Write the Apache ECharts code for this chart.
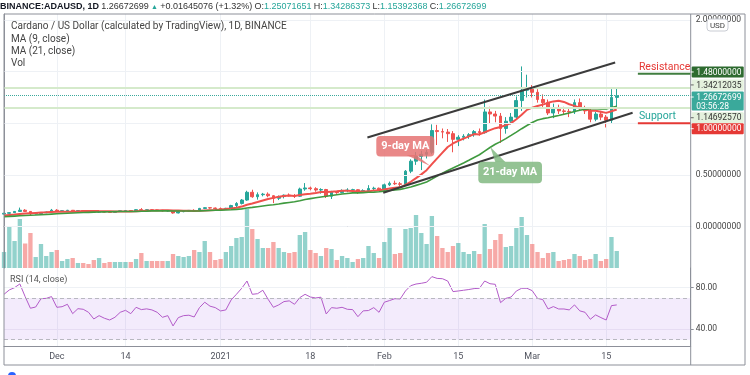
<!DOCTYPE html>
<html><head><meta charset="utf-8">
<script src="https://cdn.jsdelivr.net/npm/echarts@6/dist/echarts.min.js"></script>
<style>html,body{margin:0;padding:0;background:#fff;overflow:hidden}#c{width:750px;height:375px}</style>
</head><body><div id="c"></div>
<script>
// ---------- data ----------
const startDay = [2020, 10, 21];          // 21 Nov 2020 (first candle)
const dayCount = 131;                      // axis runs to 31 Mar 2021
const opens = [0.122,0.130,0.136,0.148,0.160,0.148,0.125,0.127,0.135,0.142,0.160,0.150,0.155,0.159,0.148,0.156,0.154,0.152,0.141,0.146,0.142,0.139,0.147,0.155,0.156,0.152,0.165,0.162,0.164,0.163,0.159,0.152,0.156,0.133,0.146,0.151,0.158,0.155,0.177,0.184,0.181,0.176,0.175,0.178,0.205,0.225,0.258,0.333,0.290,0.310,0.315,0.300,0.275,0.292,0.305,0.300,0.295,0.365,0.375,0.368,0.355,0.360,0.295,0.335,0.330,0.350,0.355,0.358,0.335,0.350,0.370,0.372,0.355,0.405,0.420,0.415,0.410,0.537,0.634,0.680,0.700,0.720,0.930,0.920,0.915,0.900,0.845,0.865,0.875,0.890,0.920,0.910,1.110,1.090,1.070,0.950,1.020,1.060,1.220,1.320,1.330,1.300,1.230,1.200,1.100,1.150,1.120,1.115,1.110,1.200,1.140,1.120,1.040,1.090,1.060,1.030,1.2507];
const highs = [0.134,0.140,0.152,0.185,0.170,0.152,0.133,0.139,0.146,0.172,0.170,0.158,0.163,0.162,0.158,0.160,0.158,0.154,0.149,0.148,0.144,0.149,0.158,0.159,0.158,0.169,0.180,0.167,0.169,0.166,0.162,0.158,0.158,0.149,0.154,0.161,0.169,0.182,0.188,0.190,0.186,0.186,0.183,0.212,0.238,0.268,0.348,0.358,0.332,0.327,0.332,0.306,0.302,0.312,0.322,0.316,0.378,0.422,0.388,0.382,0.372,0.366,0.347,0.346,0.362,0.372,0.367,0.363,0.362,0.402,0.387,0.379,0.417,0.437,0.446,0.432,0.548,0.652,0.722,0.734,0.745,0.990,0.985,0.950,0.945,0.925,0.885,0.895,0.905,0.935,0.950,1.230,1.160,1.120,1.100,1.060,1.100,1.260,1.550,1.470,1.370,1.330,1.280,1.230,1.190,1.180,1.160,1.150,1.230,1.240,1.170,1.140,1.110,1.120,1.080,1.330,1.3429];
const lows = [0.119,0.126,0.134,0.145,0.143,0.105,0.118,0.123,0.131,0.140,0.145,0.146,0.150,0.144,0.146,0.150,0.149,0.137,0.134,0.138,0.133,0.137,0.145,0.149,0.149,0.150,0.157,0.156,0.159,0.154,0.147,0.146,0.126,0.129,0.140,0.148,0.150,0.153,0.170,0.174,0.171,0.169,0.169,0.175,0.190,0.215,0.250,0.280,0.262,0.294,0.285,0.228,0.258,0.274,0.293,0.278,0.290,0.348,0.352,0.338,0.320,0.278,0.268,0.318,0.324,0.334,0.329,0.318,0.328,0.334,0.349,0.344,0.344,0.393,0.404,0.394,0.404,0.518,0.598,0.548,0.660,0.700,0.790,0.855,0.820,0.720,0.780,0.835,0.850,0.870,0.880,0.900,1.000,1.010,0.810,0.900,0.990,1.040,1.120,1.250,1.250,1.200,1.150,1.080,1.050,1.090,1.080,1.060,1.090,1.120,1.090,1.010,1.020,1.030,0.960,1.000,1.1539];
const closes = [0.130,0.136,0.148,0.160,0.148,0.125,0.127,0.135,0.142,0.160,0.150,0.155,0.159,0.148,0.156,0.154,0.152,0.141,0.146,0.142,0.139,0.147,0.155,0.156,0.152,0.165,0.162,0.164,0.163,0.159,0.152,0.156,0.133,0.146,0.151,0.158,0.155,0.177,0.184,0.181,0.176,0.175,0.178,0.205,0.225,0.258,0.333,0.290,0.310,0.315,0.300,0.275,0.292,0.305,0.300,0.295,0.365,0.375,0.368,0.355,0.360,0.295,0.335,0.330,0.350,0.355,0.358,0.335,0.350,0.370,0.372,0.355,0.405,0.420,0.415,0.410,0.537,0.634,0.680,0.700,0.720,0.930,0.920,0.915,0.900,0.845,0.865,0.875,0.890,0.920,0.910,1.110,1.090,1.070,0.950,1.020,1.060,1.220,1.320,1.330,1.300,1.230,1.200,1.100,1.150,1.120,1.115,1.110,1.200,1.140,1.120,1.040,1.090,1.060,1.030,1.2507,1.2667];
const volumes = [160,420,270,490,245,350,110,240,120,160,180,70,90,100,50,50,40,80,100,50,60,60,60,60,60,90,150,70,70,70,70,70,140,120,110,120,180,160,270,160,80,90,160,220,300,310,590,390,290,200,200,260,200,160,150,160,330,360,180,150,120,200,190,80,120,100,60,90,100,220,150,100,260,400,140,150,390,400,530,350,240,520,320,200,160,220,250,160,140,170,140,440,190,280,340,210,220,400,510,330,240,160,100,150,160,70,80,90,140,120,80,90,140,70,90,310,170];
const ma9 = [0.108,0.113,0.118,0.124,0.128,0.131,0.134,0.137,0.139,0.142,0.144,0.145,0.145,0.145,0.148,0.151,0.153,0.153,0.151,0.150,0.149,0.147,0.148,0.148,0.148,0.149,0.152,0.154,0.156,0.158,0.159,0.159,0.156,0.156,0.154,0.154,0.153,0.154,0.157,0.160,0.162,0.167,0.171,0.177,0.184,0.195,0.213,0.225,0.239,0.254,0.268,0.279,0.289,0.298,0.302,0.298,0.306,0.314,0.319,0.326,0.335,0.335,0.339,0.342,0.348,0.347,0.345,0.341,0.341,0.342,0.351,0.353,0.361,0.369,0.376,0.381,0.404,0.435,0.470,0.506,0.547,0.605,0.661,0.716,0.771,0.805,0.831,0.852,0.873,0.896,0.893,0.914,0.934,0.953,0.964,0.982,1.002,1.039,1.083,1.130,1.151,1.167,1.181,1.198,1.212,1.219,1.207,1.184,1.169,1.152,1.139,1.122,1.121,1.111,1.101,1.116,1.133];
const ma21 = [0.098,0.100,0.103,0.106,0.109,0.111,0.113,0.116,0.119,0.122,0.125,0.128,0.131,0.133,0.135,0.137,0.139,0.141,0.142,0.144,0.145,0.146,0.147,0.148,0.147,0.148,0.150,0.151,0.153,0.154,0.153,0.154,0.152,0.152,0.152,0.152,0.152,0.153,0.155,0.157,0.159,0.160,0.162,0.164,0.168,0.173,0.181,0.187,0.194,0.201,0.208,0.213,0.220,0.228,0.235,0.242,0.252,0.263,0.272,0.280,0.288,0.294,0.302,0.309,0.316,0.322,0.327,0.327,0.330,0.333,0.335,0.338,0.344,0.350,0.355,0.361,0.372,0.385,0.400,0.415,0.433,0.460,0.490,0.517,0.544,0.568,0.592,0.617,0.643,0.670,0.696,0.731,0.766,0.798,0.823,0.852,0.883,0.915,0.948,0.979,1.008,1.032,1.045,1.053,1.065,1.075,1.088,1.100,1.115,1.127,1.136,1.143,1.142,1.140,1.138,1.153,1.164];
const rsi = [73.6,77.8,80.0,83.6,71.4,60.2,61.4,69.4,69.7,71.4,61.1,61.7,64.0,55.0,59.8,59.2,56.3,49.9,53.1,50.6,48.9,51.5,56.3,58.2,55.0,61.1,58.9,59.6,58.6,56.3,51.5,53.1,43.2,51.2,53.1,53.5,51.8,60.8,66.0,62.2,60.8,57.6,58.6,68.2,73.6,79.4,86.4,73.6,74.2,77.5,68.8,61.1,63.4,66.6,67.3,64.0,70.4,73.6,71.0,70.1,70.8,54.7,60.8,60.2,61.1,59.2,58.9,52.1,57.7,58.0,60.8,56.3,66.0,67.6,69.4,69.1,76.8,81.9,83.5,84.2,85.2,90.6,88.9,88.6,86.4,76.2,76.8,77.5,78.2,79.1,79.4,86.4,83.8,83.2,65.6,69.7,71.0,76.8,79.4,79.4,77.1,69.7,68.5,59.5,61.8,59.5,59.5,58.6,63.4,57.7,56.3,49.6,53.8,51.2,48.9,62.7,63.4];
const tickDates = ['2020-12-01','2020-12-14','2021-01-01','2021-01-18','2021-02-01','2021-02-15','2021-03-01','2021-03-15'];
const tickLabels = ['Dec','14','2021','18','Feb','15','Mar','15'];
const priceLabelValues = [0, 0.5, 2];
const priceGridValues = [0, 0.5, 1, 1.5, 2];
const rsiLabelValues = [40, 80];
const rsiBand = [30, 70];
// drawings (day index, price)
const upperChannel = [[68.8, 0.863], [115.7, 1.588]];
const lowerChannel = [[71.8, 0.329], [119.0, 1.102]];
const resistanceLine = [[120, 1.48], [130, 1.48]];
const supportLine = [[120, 1.0], [130, 1.0]];
const ma9Callout = [80.7, 0.587];
const ma21Callout = [92.06, 0.771];
const lastPrice = 1.26672699, level1 = 1.34212035, level2 = 1.14692570;
const priceTags = [
  {v: 1.48, t: '1.48000000', bg: '#2e6b30', fg: '#fff', dy: -1.7},
  {v: level1, t: '1.34212035', bg: '#e4f1dd', fg: '#333', dy: -3},
  {v: lastPrice, t: '1.26672699\n03:56:28', bg: '#3aa99b', fg: '#fff', dy: 1.3, two: true},
  {v: level2, t: '1.14692570', bg: '#e4f1dd', fg: '#333', dy: 9.6},
  {v: 1.0, t: '1.00000000', bg: '#e53935', fg: '#fff', dy: 5.4}
];

// ---------- build ----------
const dates = [];
const d0 = Date.UTC(startDay[0], startDay[1], startDay[2]);
for (let k = 0; k < dayCount; k++) dates.push(new Date(d0 + k * 864e5).toISOString().slice(0, 10));
const UP = '#26a69a', DOWN = '#ef5350';
const candle = opens.map((o, k) => [o, closes[k], lows[k], highs[k]]);
const vol = volumes.map((v, k) => ({value: v, itemStyle: {color: closes[k] >= opens[k] ? 'rgba(38,166,154,0.5)' : 'rgba(239,83,80,0.5)'}}));
const isTick = (i, v) => tickDates.indexOf(v) >= 0;
const FONT = 'Roboto, "Open Sans", sans-serif';
const L = 4, R = 59.3, T = 14, H0 = 254, H1 = 78;

const chart = echarts.init(document.getElementById('c'));
chart.setOption({
  animation: false,
  backgroundColor: '#fff',
  textStyle: {fontFamily: FONT},
  grid: [
    {left: L, right: R, top: T, height: H0},
    {left: L, right: R, top: T + H0, height: H1}
  ],
  xAxis: [
    {type: 'category', gridIndex: 0, data: dates, boundaryGap: false,
     axisLine: {show: true, lineStyle: {color: '#8d9099'}}, axisTick: {show: false}, axisLabel: {show: false},
     splitLine: {show: true, interval: isTick, lineStyle: {color: '#eef1f5'}}},
    {type: 'category', gridIndex: 1, data: dates, boundaryGap: false,
     axisLine: {show: true, lineStyle: {color: '#8d9099'}}, axisTick: {show: false},
     axisLabel: {show: true, interval: isTick, formatter: v => tickLabels[tickDates.indexOf(v)], color: '#50535e', fontSize: 9, margin: 6},
     splitLine: {show: true, interval: isTick, lineStyle: {color: '#eef1f5'}}},
    {type: 'value', gridIndex: 0, min: 0, max: dayCount - 1, show: false}
  ],
  yAxis: [
    {type: 'value', gridIndex: 0, position: 'right', min: -0.399, max: 2.057,
     axisLine: {show: true, lineStyle: {color: '#8d9099'}},
     axisTick: {show: true, length: 3, customValues: priceLabelValues, lineStyle: {color: '#8d9099'}},
     axisLabel: {customValues: priceLabelValues, formatter: v => v.toFixed(8), color: '#444', fontSize: 8.5, margin: 5},
     splitLine: {show: false}},
    {type: 'value', gridIndex: 0, min: 0, max: 2540, show: false},
    {type: 'value', gridIndex: 1, position: 'right', min: 23.9, max: 98.9,
     axisLine: {show: true, lineStyle: {color: '#8d9099'}},
     axisTick: {show: true, length: 3, customValues: rsiLabelValues, lineStyle: {color: '#8d9099'}},
     axisLabel: {customValues: rsiLabelValues, formatter: v => v.toFixed(2), color: '#444', fontSize: 8.5, margin: 5},
     splitLine: {show: false}}
  ],
  series: [
    {type: 'line', xAxisIndex: 2, yAxisIndex: 0, data: [], z: 0, silent: true,
     markLine: {silent: true, symbol: 'none', label: {show: false},
       data: priceGridValues.map(v => ({yAxis: v, lineStyle: {color: '#eef1f5', width: 1, type: 'solid'}})).concat([
         {yAxis: level1, lineStyle: {color: '#d5eacb', width: 2, type: 'solid'}},
         {yAxis: level2, lineStyle: {color: '#d5eacb', width: 2, type: 'solid'}},
         {yAxis: lastPrice, lineStyle: {color: '#3aa99b', width: 1, type: 'dotted'}}
       ])}},
    {type: 'bar', xAxisIndex: 0, yAxisIndex: 1, data: vol, barWidth: '82%', z: 1, silent: true},
    {type: 'candlestick', xAxisIndex: 0, yAxisIndex: 0, data: candle, barWidth: '62%', z: 3, silent: true,
     itemStyle: {color: UP, color0: DOWN, borderColor: UP, borderColor0: DOWN, borderWidth: 1}},
    {type: 'line', xAxisIndex: 0, yAxisIndex: 0, data: ma9, symbol: 'none', z: 4, silent: true,
     lineStyle: {color: '#f0504c', width: 2}},
    {type: 'line', xAxisIndex: 0, yAxisIndex: 0, data: ma21, symbol: 'none', z: 4, silent: true,
     lineStyle: {color: '#3f9a3f', width: 1.6}},
    {type: 'line', xAxisIndex: 2, yAxisIndex: 0, data: upperChannel, symbol: 'none', z: 5, silent: true,
     lineStyle: {color: '#3b3b3b', width: 2}},
    {type: 'line', xAxisIndex: 2, yAxisIndex: 0, data: lowerChannel, symbol: 'none', z: 5, silent: true,
     lineStyle: {color: '#3b3b3b', width: 2}},
    {type: 'line', xAxisIndex: 2, yAxisIndex: 0, data: resistanceLine, symbol: 'none', z: 5, silent: true,
     lineStyle: {color: '#3f7d3f', width: 2}},
    {type: 'line', xAxisIndex: 2, yAxisIndex: 0, data: supportLine, symbol: 'none', z: 5, silent: true,
     lineStyle: {color: '#e53935', width: 2}},
    {type: 'line', xAxisIndex: 1, yAxisIndex: 2, data: rsi, symbol: 'none', z: 4, silent: true,
     lineStyle: {color: '#b35bc9', width: 1},
     markArea: {silent: true, itemStyle: {color: 'rgba(155,89,230,0.12)'}, data: [[{yAxis: rsiBand[0]}, {yAxis: rsiBand[1]}]]},
     markLine: {silent: true, symbol: 'none', label: {show: false},
       data: [
         {yAxis: rsiBand[1], lineStyle: {color: '#b8b8c0', type: [4, 3], width: 1}},
         {yAxis: rsiBand[0], lineStyle: {color: '#b8b8c0', type: [4, 3], width: 1}},
         {yAxis: 80, lineStyle: {color: '#eef1f5', type: 'solid', width: 1}},
         {yAxis: 40, lineStyle: {color: '#e6dcf3', type: 'solid', width: 1}}
       ]}}
  ]
});

// ---------- overlays positioned from data coordinates ----------
const px = p => chart.convertToPixel({xAxisIndex: 2, yAxisIndex: 0}, p);
const axisX = chart.convertToPixel({xAxisIndex: 2}, dayCount - 1);
const g = [];
const txt = (x, y, text, style) => g.push({type: 'text', x, y, silent: true, z: 50, style: Object.assign({text, font: '10px ' + FONT, fill: '#333', verticalAlign: 'middle'}, style)});
// frame
g.push({type: 'rect', shape: {x: 4, y: 14, width: 741, height: 351}, style: {fill: 'none', stroke: '#8d9099', lineWidth: 1}, silent: true, z: 40});
g.push({type: 'line', shape: {x1: axisX, y1: 14, x2: axisX, y2: 365}, style: {stroke: '#8d9099', lineWidth: 1}, silent: true, z: 40});
// header
g.push({type: 'text', x: 0, y: 7, silent: true, z: 50, style: {
  text: '{b|BINANCE:ADAUSD, 1D} {d|1.26672699} {t|▲} {d|+0.01645076 (+1.32%)} {d|O:}{v|1.25071651} {d|H:}{v|1.34286373} {d|L:}{v|1.15392368} {d|C:}{v|1.26672699}',
  verticalAlign: 'middle', font: '9px ' + FONT,
  rich: {b: {fill: '#131722', fontWeight: 'bold', fontSize: 9}, d: {fill: '#333', fontSize: 9}, v: {fill: '#26a69a', fontSize: 9}, t: {fill: '#26a69a', fontSize: 7}}}});
txt(11, 26, 'Cardano / US Dollar (calculated by TradingView), 1D, BINANCE', {fill: '#444'});
txt(11, 39, 'MA (9, close)', {fill: '#444'});
txt(11, 51, 'MA (21, close)', {fill: '#444'});
txt(11, 63, 'Vol', {fill: '#444'});
txt(10, 280, 'RSI (14, close)', {fill: '#555', font: '9px ' + FONT});
// price tags
priceTags.forEach(p => {
  const y = px([0, p.v])[1] + p.dy;
  const h = p.two ? 19 : 11;
  const top = p.two ? y - 5.5 : y - h / 2;
  g.push({type: 'rect', shape: {x: axisX + 1, y: top, width: 52, height: h, r: 1}, style: {fill: p.bg}, silent: true, z: 45});
  g.push({type: 'line', shape: {x1: axisX, y1: y, x2: axisX + 3, y2: y}, style: {stroke: p.fg === '#fff' ? '#fff' : '#666'}, silent: true, z: 46});
  g.push({type: 'text', x: axisX + 5.5, y: top + 1.2, silent: true, z: 47, style: {text: p.t, font: '8.5px ' + FONT, fill: p.fg, lineHeight: 9.5, verticalAlign: 'top'}});
});
// USD badge
g.push({type: 'rect', shape: {x: 707, y: 19, width: 21, height: 12, r: 3}, style: {fill: '#fff', stroke: '#c9ccd3'}, silent: true, z: 48});
txt(717.5, 25.5, 'USD', {font: '8px ' + FONT, fill: '#444', align: 'center'});
// resistance / support words
const rp = px([resistanceLine[0][0], resistanceLine[0][1]]);
txt(rp[0] + 1, rp[1] - 6.5, 'Resistance', {fill: '#e53935', font: '10.5px ' + FONT});
const sp = px([supportLine[0][0], supportLine[0][1]]);
txt(sp[0] + 1, sp[1] - 7, 'Support', {fill: '#26a69a', font: '10.5px ' + FONT});
// 9-day MA callout
const c9 = px(ma9Callout);
g.push({type: 'polygon', shape: {points: [[c9[0] - 24, c9[1] - 11], [c9[0] - 14, c9[1] - 11], c9]}, style: {fill: 'rgba(229,115,115,0.85)'}, silent: true, z: 30});
g.push({type: 'rect', shape: {x: c9[0] - 54, y: c9[1] - 30, width: 58, height: 20.5, r: 4}, style: {fill: 'rgba(229,115,115,0.85)'}, silent: true, z: 30});
txt(c9[0] - 25, c9[1] - 19.5, '9-day MA', {fill: '#fff', font: 'bold 11px ' + FONT, align: 'center'});
// 21-day MA callout
const c21 = px(ma21Callout);
g.push({type: 'polygon', shape: {points: [c21, [c21[0] + 5, c21[1] + 15], [c21[0] + 15, c21[1] + 15]]}, style: {fill: 'rgba(129,185,129,0.85)'}, silent: true, z: 30});
g.push({type: 'rect', shape: {x: c21[0] - 12, y: c21[1] + 14.7, width: 63.7, height: 21.6, r: 4}, style: {fill: 'rgba(129,185,129,0.85)'}, silent: true, z: 30});
txt(c21[0] + 19.8, c21[1] + 25.5, '21-day MA', {fill: '#fff', font: 'bold 11px ' + FONT, align: 'center'});
// logo dot
g.push({type: 'circle', shape: {cx: 12, cy: 376, r: 4}, style: {fill: '#2962ff'}, silent: true, z: 50});
chart.setOption({graphic: g});
</script>
</body></html>
